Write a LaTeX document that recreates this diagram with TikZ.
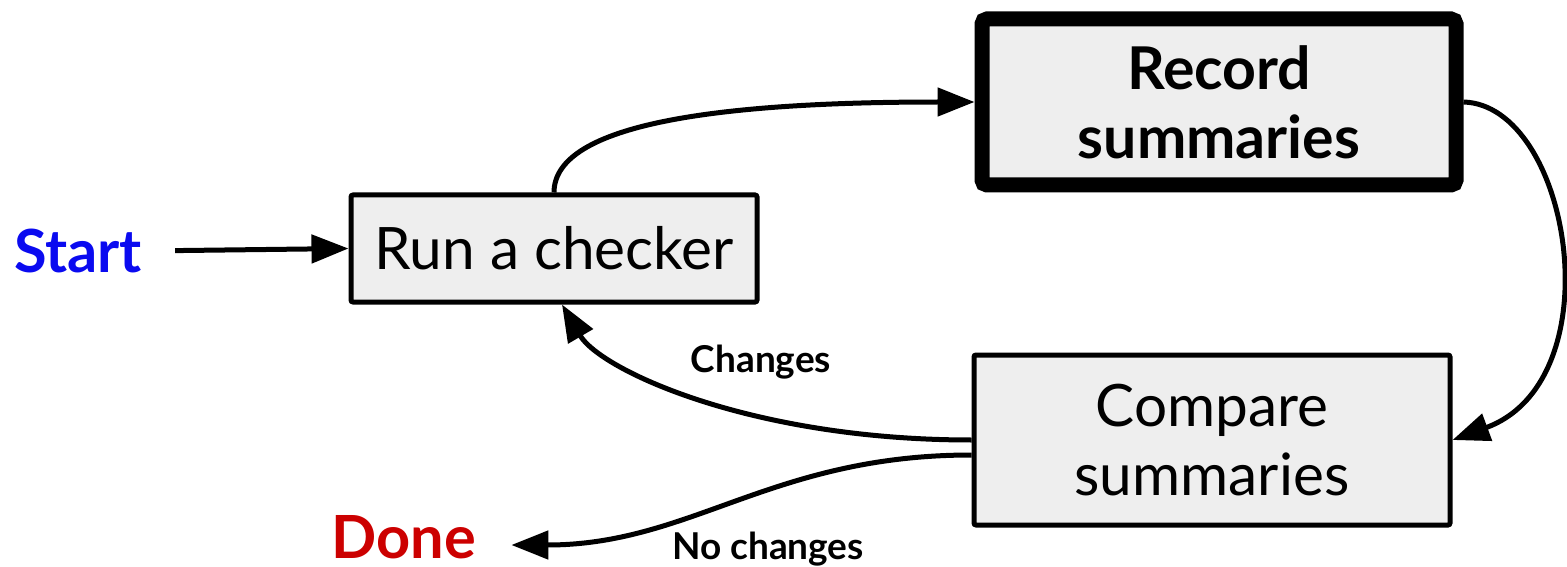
\documentclass[tikz,border=0pt]{standalone}
\usepackage{fontspec}
\setmainfont{Lato}
\usetikzlibrary{arrows.meta}
\definecolor{boxgray}{HTML}{EEEEEE}
\definecolor{startblue}{HTML}{0A0AF0}
\definecolor{donered}{HTML}{CC0000}
\begin{document}
\begin{tikzpicture}[x=1pt,y=-1pt,
  box/.style={draw, line width=5pt, fill=boxgray, rounded corners=2pt, inner sep=0pt, align=center,
    font=\fontsize{58.5}{69}\selectfont},
  arr/.style={line width=5pt, -{Triangle[length=37pt,width=28pt]}},
  lbl/.style={font=\bfseries\fontsize{37}{42}\selectfont, inner sep=0pt},
  term/.style={font=\bfseries\fontsize{59.5}{64}\selectfont, inner sep=0pt}]
\useasboundingbox (0,0) rectangle (1567,567);
\node[box, minimum width=406pt, minimum height=107pt] (run) at (554,248.5) {Run a checker};
\node[box, line width=15pt, rounded corners=5pt, minimum width=474pt, minimum height=166pt, font=\bfseries\fontsize{59}{69}\selectfont] (rec) at (1219,102) {Record\\summaries};
\node[box, minimum width=476pt, minimum height=170pt] (cmp) at (1212,440) {Compare\\summaries};
\node[term, text=startblue] (start) at (78,251) {Start};
\node[term, text=donered] (done) at (404,537) {Done};
\draw[arr, shorten <=33pt] (start.east) -- (run.west);
\draw[arr] (run.north) .. controls +(0,-70) and +(-250,0) .. (rec.west);
\draw[arr] (rec.east) .. controls +(107,3) and +(163,-60) .. (cmp.east);
\draw[arr] (cmp.west) .. controls +(-222,0) and +(38,65) .. ([xshift=8pt]run.south);
\draw[arr, shorten >=35pt] ([yshift=-15pt]cmp.west) .. controls +(-200,0) and +(215,0) .. ([yshift=-8pt]done.east);
\node[lbl] (chg) at (761,362) {Changes};
\node[lbl] (nochg) at (768,549) {No changes};
\end{tikzpicture}
\end{document}
